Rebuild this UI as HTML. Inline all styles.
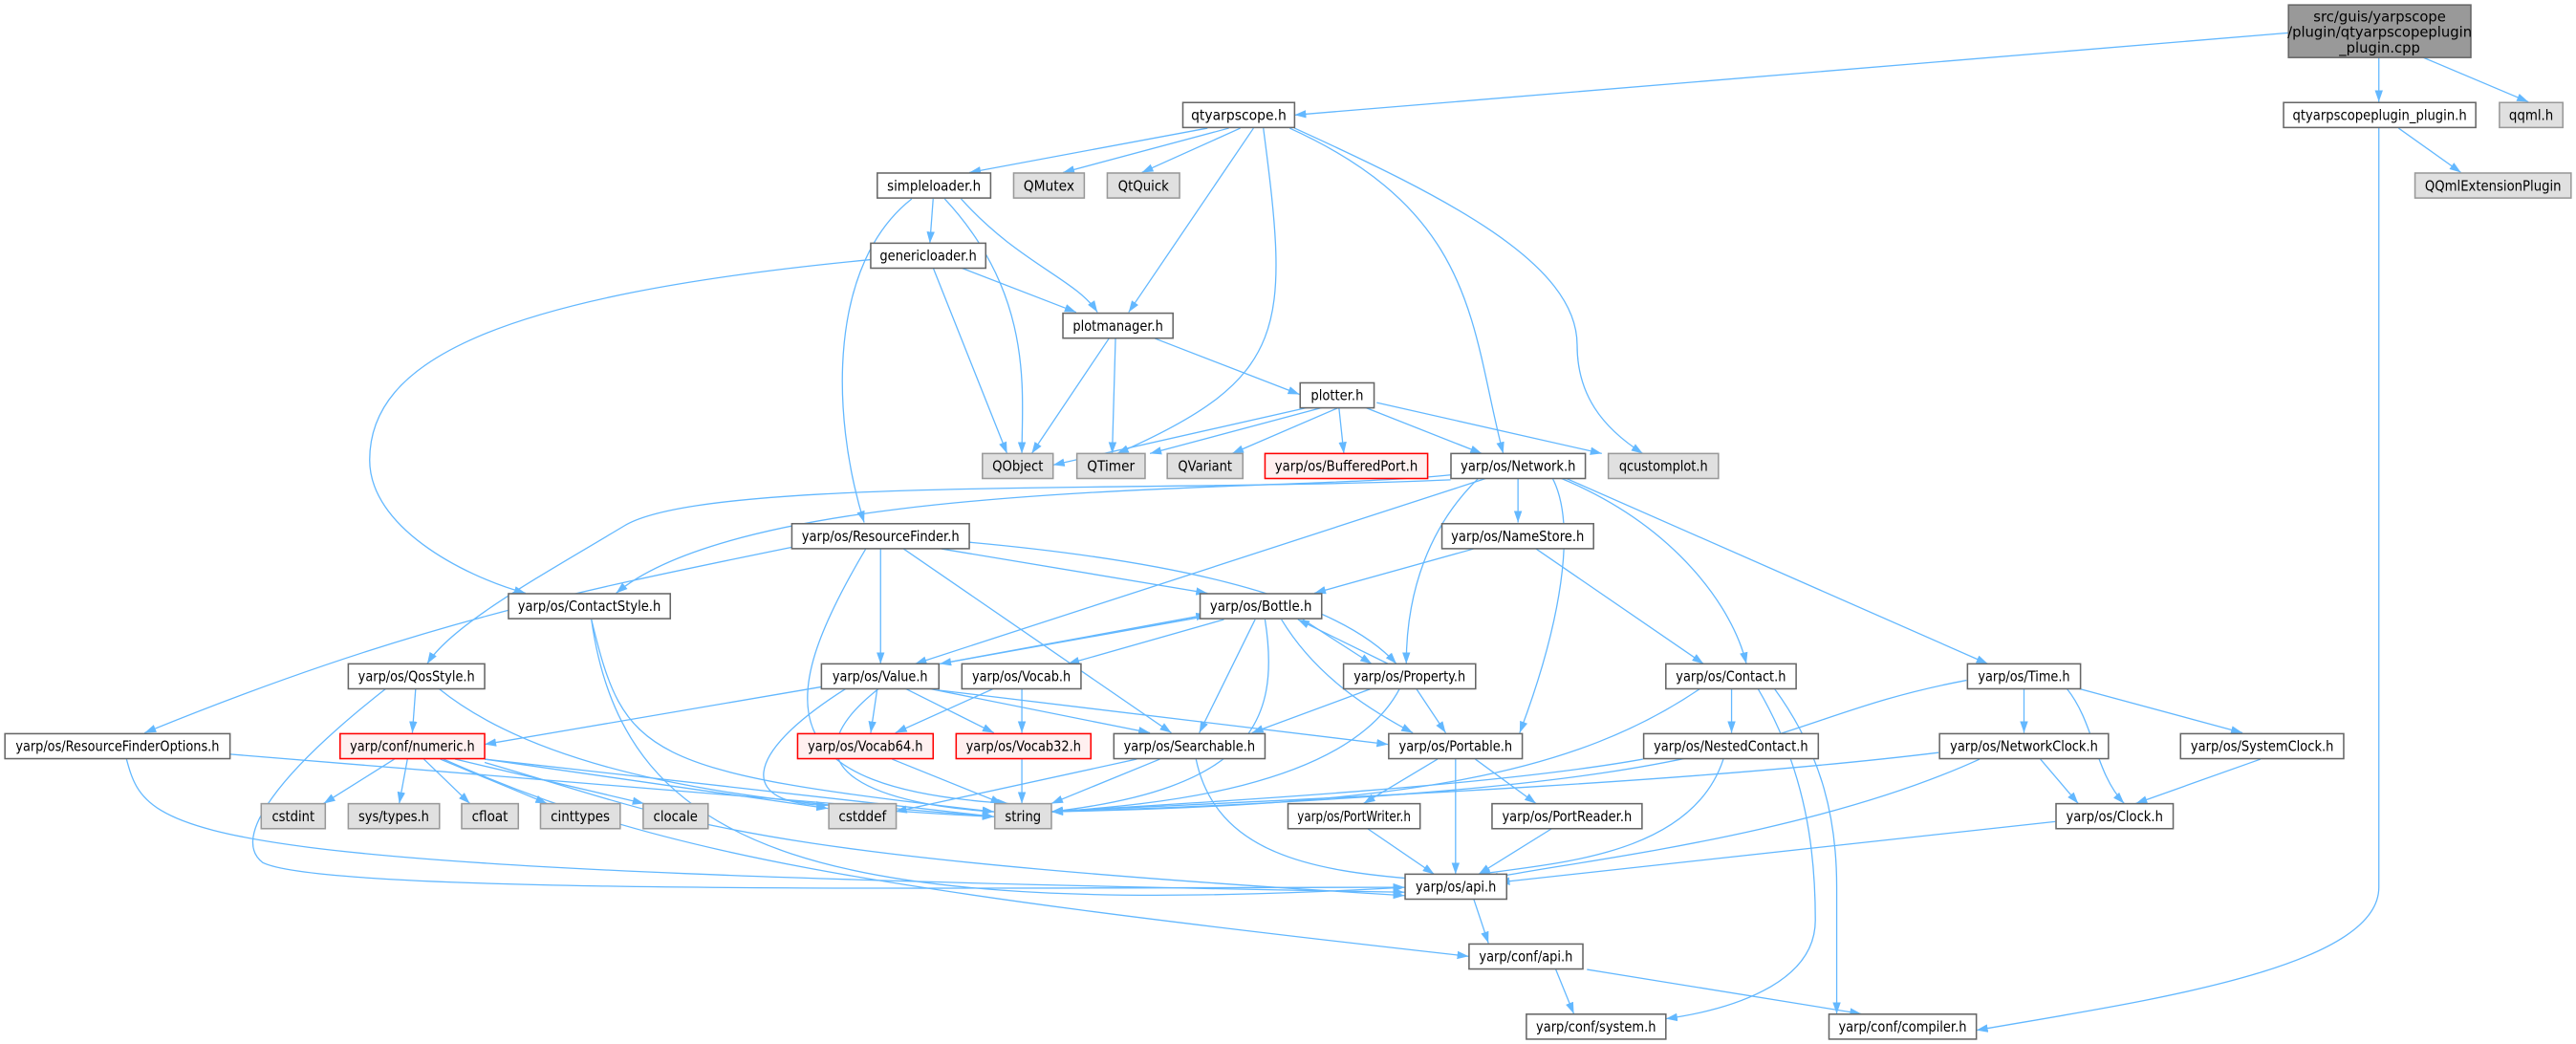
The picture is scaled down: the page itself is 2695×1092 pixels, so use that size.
<!DOCTYPE html>
<html><head><meta charset="utf-8"><style>
html,body{margin:0;padding:0;background:#fff}
svg{display:block}
text{font-family:"DejaVu Sans","Liberation Sans",sans-serif;font-size:8.6px;fill:#000}
.e{fill:none;stroke:#63b8ff;stroke-width:0.75}
.w{fill:#fff;stroke:#666;stroke-width:0.9}
.g{fill:#e0e0e0;stroke:#999;stroke-width:0.9}
.r{fill:#fff0f0;stroke:#f00;stroke-width:0.9}
.k{fill:#999;stroke:#666;stroke-width:0.9}
</style></head><body>
<svg width="2695" height="1092" viewBox="0 0 1568 635.35" xmlns="http://www.w3.org/2000/svg">
<defs><marker id="a" viewBox="0 0 10 10" refX="10" refY="5" markerWidth="7" markerHeight="7" markerUnits="userSpaceOnUse" orient="auto"><path d="M0,1.5 L10,5 L0,8.5 z" fill="#63b8ff"/></marker></defs>
<g class="e" marker-end="url(#a)">
<path d="M1393,20 L788,70"/>
<path d="M1448,35 L1448,62"/>
<path d="M1475,35 L1539,62"/>
<path d="M1460,78 L1498,105"/>
<path d="M1448,78 L1448,540 C1448,590 1300,610 1203,627"/>
<path d="M735,78 L590,105"/>
<path d="M748,78 L647,105"/>
<path d="M755,78 L695,105"/>
<path d="M763,78 L687,190"/>
<path d="M769,78 C785,200 785,230 680,276"/>
<path d="M785,78 C900,130 895,200 915,276"/>
<path d="M788,78 C880,120 960,160 960,210 C960,240 975,260 1000,276"/>
<path d="M568,121 L566,148"/>
<path d="M575,121 C630,180 622,240 622,276"/>
<path d="M585,121 C620,160 655,170 668,190"/>
<path d="M555,121 C505,160 505,250 526,318"/>
<path d="M585,163 L655,190"/>
<path d="M568,163 L613,276"/>
<path d="M530,158 C300,180 225,220 225,280 C225,320 280,350 320,361"/>
<path d="M675,206 L628,276"/>
<path d="M679,206 L677,276"/>
<path d="M703,206 L791,240"/>
<path d="M796,248 L641,283"/>
<path d="M805,248 L700,276"/>
<path d="M815,248 L750,276"/>
<path d="M815,248 L818,276"/>
<path d="M831,248 L902,276"/>
<path d="M838,245 L975,276"/>
<path d="M883,289 C780,300 460,290 375,361"/>
<path d="M883,292 C700,300 430,290 380,320 C330,350 275,380 260,404"/>
<path d="M905,291 L557,404"/>
<path d="M924,291 L924,318"/>
<path d="M900,291 C870,320 856,360 856,404"/>
<path d="M945,291 C960,320 950,380 925,446"/>
<path d="M950,291 C1020,320 1055,370 1063,404"/>
<path d="M953,291 L1210,404"/>
<path d="M482,333 C350,360 250,380 88,446"/>
<path d="M536,334 L536,404"/>
<path d="M573,334 L735,361"/>
<path d="M590,330 C700,340 810,360 850,404"/>
<path d="M550,334 L713,446"/>
<path d="M527,334 C470,430 470,480 614,489"/>
<path d="M897,334 L800,361"/>
<path d="M935,334 L1037,404"/>
<path d="M360,377 C380,460 390,470 605,494"/>
<path d="M360,377 C380,520 500,560 855,540"/>
<path d="M740,374 L572,404"/>
<path d="M572,404 L735,374"/>
<path d="M745,377 L650,404"/>
<path d="M764,377 L730,446"/>
<path d="M770,377 C780,440 760,480 640,494"/>
<path d="M793,377 L835,404"/>
<path d="M845,404 L790,377"/>
<path d="M780,377 C800,410 830,430 860,446"/>
<path d="M253,419 L251,446"/>
<path d="M267,419 C330,470 450,490 605,497"/>
<path d="M235,419 C170,470 140,510 160,525 C200,545 600,540 855,540"/>
<path d="M500,418 L295,453"/>
<path d="M534,419 L530,446"/>
<path d="M551,419 L605,446"/>
<path d="M565,419 L700,446"/>
<path d="M571,420 L845,453"/>
<path d="M535,419 C470,470 540,490 605,494"/>
<path d="M515,419 C450,460 450,490 504,490"/>
<path d="M605,419 L545,446"/>
<path d="M622,419 L622,446"/>
<path d="M835,419 L762,446"/>
<path d="M852,419 C820,480 700,490 640,494"/>
<path d="M862,419 L880,446"/>
<path d="M1035,419 C960,470 860,490 640,494"/>
<path d="M1054,419 L1054,446"/>
<path d="M1070,419 C1100,470 1105,520 1105,560 C1105,600 1050,615 1014,620"/>
<path d="M1080,419 C1110,460 1118,500 1118,540 L1118,617"/>
<path d="M1197,414 C1060,440 1100,480 640,494"/>
<path d="M1232,419 L1232,446"/>
<path d="M1258,419 C1275,440 1275,470 1293,489"/>
<path d="M1265,419 L1365,446"/>
<path d="M140,459 L605,497"/>
<path d="M77,462 C90,510 100,530 855,543"/>
<path d="M240,462 L197,489"/>
<path d="M248,462 L243,489"/>
<path d="M258,462 L286,489"/>
<path d="M268,462 L333,489"/>
<path d="M277,462 L392,489"/>
<path d="M295,462 L504,492"/>
<path d="M295,462 L605,497"/>
<path d="M295,464 C420,500 440,520 855,545"/>
<path d="M270,462 C400,520 520,540 894,582"/>
<path d="M543,462 L610,489"/>
<path d="M622,462 L622,489"/>
<path d="M692,462 L545,494"/>
<path d="M706,462 L640,489"/>
<path d="M728,462 C740,520 800,530 862,535"/>
<path d="M875,462 L830,489"/>
<path d="M898,462 L935,489"/>
<path d="M886,462 L886,532"/>
<path d="M1000,462 C900,480 700,490 640,494"/>
<path d="M1049,462 C1030,520 950,525 900,532"/>
<path d="M1180,458 C1000,480 700,490 640,494"/>
<path d="M1205,462 C1100,510 950,525 905,535"/>
<path d="M1242,462 L1265,489"/>
<path d="M1376,462 L1300,489"/>
<path d="M832,504 L873,532"/>
<path d="M945,504 L900,532"/>
<path d="M1251,500 L912,537"/>
<path d="M897,547 L906,574"/>
<path d="M947,590 L958,617"/>
<path d="M966,590 L1133,617"/>
</g>
<g>
<rect class="k" x="1393" y="3" width="111" height="32"/>
<text x="1448.5" y="13" text-anchor="middle" font-size="7.8">src/guis/yarpscope</text>
<text x="1448.5" y="22.5" text-anchor="middle" font-size="7.8">/plugin/qtyarpscopeplugin</text>
<text x="1448.5" y="32" text-anchor="middle" font-size="7.8">_plugin.cpp</text>
</g>
<g>
<rect class="w" x="720" y="62.4" width="68" height="15.2"/><text x="754" y="73" text-anchor="middle" textLength="58" lengthAdjust="spacingAndGlyphs">qtyarpscope.h</text>
<rect class="w" x="1390" y="62.4" width="117" height="15.2"/><text x="1448.5" y="73" text-anchor="middle" textLength="106" lengthAdjust="spacingAndGlyphs">qtyarpscopeplugin_plugin.h</text>
<rect class="g" x="1521.4" y="62.4" width="38.6" height="15.2"/><text x="1540.7" y="73" text-anchor="middle" textLength="27" lengthAdjust="spacingAndGlyphs">qqml.h</text>
<rect class="g" x="1470" y="105.3" width="95" height="15.2"/><text x="1517.5" y="116" text-anchor="middle" textLength="83" lengthAdjust="spacingAndGlyphs">QQmlExtensionPlugin</text>
<rect class="w" x="534" y="105.3" width="69" height="15.2"/><text x="568.5" y="116" text-anchor="middle" textLength="57" lengthAdjust="spacingAndGlyphs">simpleloader.h</text>
<rect class="g" x="617" y="105.3" width="43" height="15.2"/><text x="638.5" y="116" text-anchor="middle" textLength="31" lengthAdjust="spacingAndGlyphs">QMutex</text>
<rect class="g" x="674" y="105.3" width="44" height="15.2"/><text x="696" y="116" text-anchor="middle" textLength="31" lengthAdjust="spacingAndGlyphs">QtQuick</text>
<rect class="w" x="530" y="148" width="70" height="15.2"/><text x="565" y="158.6" text-anchor="middle" textLength="59" lengthAdjust="spacingAndGlyphs">genericloader.h</text>
<rect class="w" x="647" y="190.6" width="67" height="15.2"/><text x="680.5" y="201.2" text-anchor="middle" textLength="55" lengthAdjust="spacingAndGlyphs">plotmanager.h</text>
<rect class="w" x="791.4" y="233" width="45" height="15.2"/><text x="813.9" y="243.6" text-anchor="middle" textLength="32" lengthAdjust="spacingAndGlyphs">plotter.h</text>
<rect class="g" x="598" y="276" width="43" height="15.2"/><text x="619.5" y="286.6" text-anchor="middle" textLength="31" lengthAdjust="spacingAndGlyphs">QObject</text>
<rect class="g" x="655.5" y="276" width="41.5" height="15.2"/><text x="676.2" y="286.6" text-anchor="middle" textLength="29" lengthAdjust="spacingAndGlyphs">QTimer</text>
<rect class="g" x="710.5" y="276" width="46" height="15.2"/><text x="733.5" y="286.6" text-anchor="middle" textLength="33" lengthAdjust="spacingAndGlyphs">QVariant</text>
<rect class="r" x="770" y="276" width="99" height="15.2"/><text x="819.5" y="286.6" text-anchor="middle" textLength="87" lengthAdjust="spacingAndGlyphs">yarp/os/BufferedPort.h</text>
<rect class="w" x="883.2" y="276" width="81.8" height="15.2"/><text x="924.1" y="286.6" text-anchor="middle" textLength="70" lengthAdjust="spacingAndGlyphs">yarp/os/Network.h</text>
<rect class="g" x="979" y="276" width="67" height="15.2"/><text x="1012.5" y="286.6" text-anchor="middle" textLength="54" lengthAdjust="spacingAndGlyphs">qcustomplot.h</text>
<rect class="w" x="482" y="318.7" width="108" height="15.2"/><text x="536" y="329.3" text-anchor="middle" textLength="96" lengthAdjust="spacingAndGlyphs">yarp/os/ResourceFinder.h</text>
<rect class="w" x="877.7" y="318.7" width="92.3" height="15.2"/><text x="923.8" y="329.3" text-anchor="middle" textLength="81" lengthAdjust="spacingAndGlyphs">yarp/os/NameStore.h</text>
<rect class="w" x="309.5" y="361.3" width="98.5" height="15.2"/><text x="358.7" y="371.9" text-anchor="middle" textLength="87" lengthAdjust="spacingAndGlyphs">yarp/os/ContactStyle.h</text>
<rect class="w" x="730.5" y="361.3" width="74" height="15.2"/><text x="767.5" y="371.9" text-anchor="middle" textLength="62" lengthAdjust="spacingAndGlyphs">yarp/os/Bottle.h</text>
<rect class="w" x="212" y="404" width="83" height="15.2"/><text x="253.5" y="414.6" text-anchor="middle" textLength="71" lengthAdjust="spacingAndGlyphs">yarp/os/QosStyle.h</text>
<rect class="w" x="500" y="404" width="71.5" height="15.2"/><text x="535.7" y="414.6" text-anchor="middle" textLength="58" lengthAdjust="spacingAndGlyphs">yarp/os/Value.h</text>
<rect class="w" x="585.5" y="404" width="72.5" height="15.2"/><text x="621.7" y="414.6" text-anchor="middle" textLength="60" lengthAdjust="spacingAndGlyphs">yarp/os/Vocab.h</text>
<rect class="w" x="817.8" y="404" width="80.4" height="15.2"/><text x="858" y="414.6" text-anchor="middle" textLength="68" lengthAdjust="spacingAndGlyphs">yarp/os/Property.h</text>
<rect class="w" x="1014" y="404" width="79.3" height="15.2"/><text x="1053.6" y="414.6" text-anchor="middle" textLength="67" lengthAdjust="spacingAndGlyphs">yarp/os/Contact.h</text>
<rect class="w" x="1197.6" y="404" width="68.8" height="15.2"/><text x="1232" y="414.6" text-anchor="middle" textLength="56" lengthAdjust="spacingAndGlyphs">yarp/os/Time.h</text>
<rect class="w" x="3" y="446.5" width="137" height="15.2"/><text x="71.5" y="457.1" text-anchor="middle" textLength="124" lengthAdjust="spacingAndGlyphs">yarp/os/ResourceFinderOptions.h</text>
<rect class="r" x="207" y="446.5" width="88" height="15.2"/><text x="251" y="457.1" text-anchor="middle" textLength="76" lengthAdjust="spacingAndGlyphs">yarp/conf/numeric.h</text>
<rect class="r" x="485.5" y="446.5" width="82.5" height="15.2"/><text x="526.7" y="457.1" text-anchor="middle" textLength="70" lengthAdjust="spacingAndGlyphs">yarp/os/Vocab64.h</text>
<rect class="r" x="582" y="446.5" width="82" height="15.2"/><text x="623" y="457.1" text-anchor="middle" textLength="70" lengthAdjust="spacingAndGlyphs">yarp/os/Vocab32.h</text>
<rect class="w" x="678" y="446.5" width="92" height="15.2"/><text x="724" y="457.1" text-anchor="middle" textLength="80" lengthAdjust="spacingAndGlyphs">yarp/os/Searchable.h</text>
<rect class="w" x="845.3" y="446.5" width="81.3" height="15.2"/><text x="886" y="457.1" text-anchor="middle" textLength="69" lengthAdjust="spacingAndGlyphs">yarp/os/Portable.h</text>
<rect class="w" x="1000.5" y="446.5" width="106.3" height="15.2"/><text x="1053.6" y="457.1" text-anchor="middle" textLength="94" lengthAdjust="spacingAndGlyphs">yarp/os/NestedContact.h</text>
<rect class="w" x="1180.6" y="446.5" width="102.8" height="15.2"/><text x="1232" y="457.1" text-anchor="middle" textLength="90" lengthAdjust="spacingAndGlyphs">yarp/os/NetworkClock.h</text>
<rect class="w" x="1327.3" y="446.5" width="99.3" height="15.2"/><text x="1377" y="457.1" text-anchor="middle" textLength="87" lengthAdjust="spacingAndGlyphs">yarp/os/SystemClock.h</text>
<rect class="g" x="159" y="489.1" width="39" height="15.2"/><text x="178.5" y="499.7" text-anchor="middle" textLength="26" lengthAdjust="spacingAndGlyphs">cstdint</text>
<rect class="g" x="212" y="489.1" width="55.5" height="15.2"/><text x="239.7" y="499.7" text-anchor="middle" textLength="43" lengthAdjust="spacingAndGlyphs">sys/types.h</text>
<rect class="g" x="281" y="489.1" width="34.5" height="15.2"/><text x="298.2" y="499.7" text-anchor="middle" textLength="22" lengthAdjust="spacingAndGlyphs">cfloat</text>
<rect class="g" x="329" y="489.1" width="48.5" height="15.2"/><text x="353.2" y="499.7" text-anchor="middle" textLength="36" lengthAdjust="spacingAndGlyphs">cinttypes</text>
<rect class="g" x="391.5" y="489.1" width="39.5" height="15.2"/><text x="411.2" y="499.7" text-anchor="middle" textLength="27" lengthAdjust="spacingAndGlyphs">clocale</text>
<rect class="g" x="504.5" y="489.1" width="41" height="15.2"/><text x="525" y="499.7" text-anchor="middle" textLength="29" lengthAdjust="spacingAndGlyphs">cstddef</text>
<rect class="g" x="605.5" y="489.1" width="34.5" height="15.2"/><text x="622.7" y="499.7" text-anchor="middle" textLength="22" lengthAdjust="spacingAndGlyphs">string</text>
<rect class="w" x="784" y="489.1" width="80.4" height="15.2"/><text x="824.2" y="499.7" text-anchor="middle" textLength="69" lengthAdjust="spacingAndGlyphs">yarp/os/PortWriter.h</text>
<rect class="w" x="908.2" y="489.1" width="91.3" height="15.2"/><text x="953.8" y="499.7" text-anchor="middle" textLength="79" lengthAdjust="spacingAndGlyphs">yarp/os/PortReader.h</text>
<rect class="w" x="1251.5" y="489.1" width="71.3" height="15.2"/><text x="1287.1" y="499.7" text-anchor="middle" textLength="59" lengthAdjust="spacingAndGlyphs">yarp/os/Clock.h</text>
<rect class="w" x="855.3" y="532" width="61.8" height="15.2"/><text x="886.2" y="542.6" text-anchor="middle" textLength="49" lengthAdjust="spacingAndGlyphs">yarp/os/api.h</text>
<rect class="w" x="894.2" y="574.5" width="69.3" height="15.2"/><text x="928.8" y="585.1" text-anchor="middle" textLength="57" lengthAdjust="spacingAndGlyphs">yarp/conf/api.h</text>
<rect class="w" x="929.1" y="617.2" width="84.9" height="15.2"/><text x="971.5" y="627.8" text-anchor="middle" textLength="73" lengthAdjust="spacingAndGlyphs">yarp/conf/system.h</text>
<rect class="w" x="1113.3" y="617.2" width="89.7" height="15.2"/><text x="1158.1" y="627.8" text-anchor="middle" textLength="78" lengthAdjust="spacingAndGlyphs">yarp/conf/compiler.h</text>
</g>
</svg>
</body></html>
